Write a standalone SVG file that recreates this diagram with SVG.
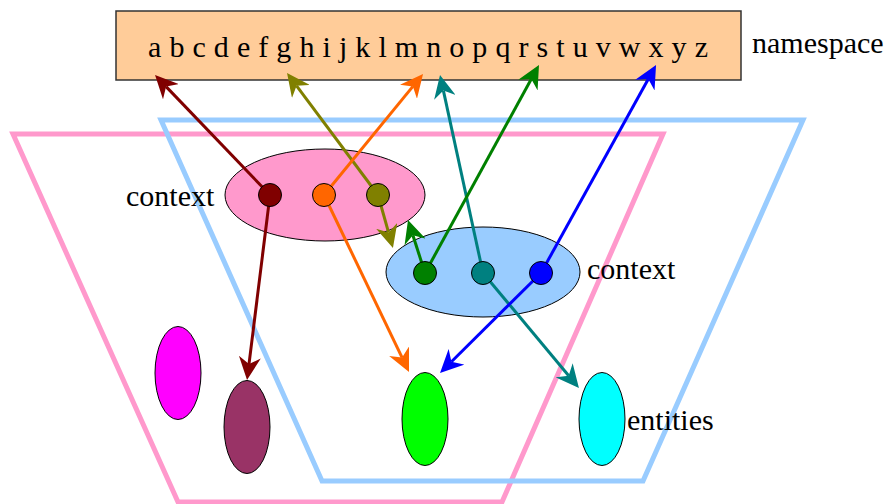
<svg xmlns="http://www.w3.org/2000/svg" width="890" height="504" viewBox="0 0 890 504">
<style>
.lbl{font-family:"Liberation Serif","Times New Roman",serif;font-size:30px;fill:#000}
.abc{font-family:"Liberation Serif","Times New Roman",serif;font-size:30px;fill:#000}
.frame{fill:none;stroke-width:5}
.ctx{stroke:#000;stroke-width:1}
.ent{stroke:#000;stroke-width:1}
.dot{stroke:#000;stroke-width:1}
.c{fill:none;stroke-width:3}
</style>
<defs>
<marker id="m-red" markerUnits="userSpaceOnUse" markerWidth="23" markerHeight="22" refX="7" refY="11" orient="auto"><path d="M23,11 L0,0 L7,11 L0,22 Z" fill="#800000"/></marker>
<marker id="m-olive" markerUnits="userSpaceOnUse" markerWidth="23" markerHeight="22" refX="7" refY="11" orient="auto"><path d="M23,11 L0,0 L7,11 L0,22 Z" fill="#808000"/></marker>
<marker id="m-orange" markerUnits="userSpaceOnUse" markerWidth="23" markerHeight="22" refX="7" refY="11" orient="auto"><path d="M23,11 L0,0 L7,11 L0,22 Z" fill="#ff6600"/></marker>
<marker id="m-teal" markerUnits="userSpaceOnUse" markerWidth="23" markerHeight="22" refX="7" refY="11" orient="auto"><path d="M23,11 L0,0 L7,11 L0,22 Z" fill="#008080"/></marker>
<marker id="m-green" markerUnits="userSpaceOnUse" markerWidth="23" markerHeight="22" refX="7" refY="11" orient="auto"><path d="M23,11 L0,0 L7,11 L0,22 Z" fill="#008000"/></marker>
<marker id="m-blue" markerUnits="userSpaceOnUse" markerWidth="23" markerHeight="22" refX="7" refY="11" orient="auto"><path d="M23,11 L0,0 L7,11 L0,22 Z" fill="#0000ff"/></marker>
</defs>
<rect width="890" height="504" fill="#fff"/>
<g id="namespace">
<rect x="116" y="11" width="625" height="69" fill="#ffcc99" stroke="#333" stroke-width="1.5"/>
<text class="abc" x="148" y="57" textLength="560" lengthAdjust="spacing">a b c d e f g h i j k l m n o p q r s t u v w x y z</text>
<text class="lbl" x="752" y="52.5">namespace</text>
</g>
<g id="frame-pink"><polygon class="frame" points="13,134 663,134 502,502 178,502" stroke="#ff99cc"/></g>
<g id="frame-blue"><polygon class="frame" points="161,120 803,120 643,481 322,481" stroke="#99ccff"/></g>
<g id="context-pink"><ellipse class="ctx" cx="325" cy="195" rx="100" ry="46" fill="#ff99cc"/></g>
<g id="context-blue"><ellipse class="ctx" cx="483" cy="272" rx="97" ry="45" fill="#99ccff"/></g>
<g id="entities">
<ellipse class="ent" cx="178" cy="373" rx="23" ry="46.5" fill="#ff00ff"/>
<ellipse class="ent" cx="247" cy="427" rx="23" ry="46.5" fill="#993366"/>
<ellipse class="ent" cx="425" cy="419" rx="23" ry="46.5" fill="#00ff00"/>
<ellipse class="ent" cx="602" cy="419" rx="23" ry="46.5" fill="#00ffff"/>
</g>
<g id="connectors">
<line class="c" x1="270" y1="195" x2="166.1" y2="86.6" stroke="#800000" marker-end="url(#m-red)"/>
<line class="c" x1="270" y1="195" x2="249" y2="364.1" stroke="#800000" marker-end="url(#m-red)"/>
<line class="c" x1="378" y1="195" x2="296.6" y2="85.8" stroke="#808000" marker-end="url(#m-olive)"/>
<line class="c" x1="378" y1="195" x2="388.6" y2="232.6" stroke="#808000" marker-end="url(#m-olive)"/>
<line class="c" x1="324" y1="195" x2="412.9" y2="86.4" stroke="#ff6600" marker-end="url(#m-orange)"/>
<line class="c" x1="324" y1="195" x2="402.1" y2="357.6" stroke="#ff6600" marker-end="url(#m-orange)"/>
<line class="c" x1="483" y1="273" x2="443.4" y2="90.6" stroke="#008080" marker-end="url(#m-teal)"/>
<line class="c" x1="483" y1="273" x2="568.7" y2="375.7" stroke="#008080" marker-end="url(#m-teal)"/>
<line class="c" x1="425" y1="273" x2="531.3" y2="79" stroke="#008000" marker-end="url(#m-green)"/>
<line class="c" x1="425" y1="273" x2="412.9" y2="235.2" stroke="#008000" marker-end="url(#m-green)"/>
<line class="c" x1="541" y1="273" x2="648.3" y2="79" stroke="#0000ff" marker-end="url(#m-blue)"/>
<line class="c" x1="541" y1="273" x2="451.4" y2="361.7" stroke="#0000ff" marker-end="url(#m-blue)"/>
</g>
<g id="dots-pink">
<circle class="dot" cx="270" cy="195" r="11.5" fill="#800000"/>
<circle class="dot" cx="324" cy="195" r="11.5" fill="#ff6600"/>
<circle class="dot" cx="378" cy="195" r="11.5" fill="#808000"/>
</g>
<g id="dots-blue">
<circle class="dot" cx="425" cy="273" r="11.5" fill="#008000"/>
<circle class="dot" cx="483" cy="273" r="11.5" fill="#008080"/>
<circle class="dot" cx="541" cy="273" r="11.5" fill="#0000ff"/>
</g>
<g id="labels">
<text class="lbl" x="126" y="206">context</text>
<text class="lbl" x="587" y="279">context</text>
<text class="lbl" x="627" y="430">entities</text>
</g>
</svg>
